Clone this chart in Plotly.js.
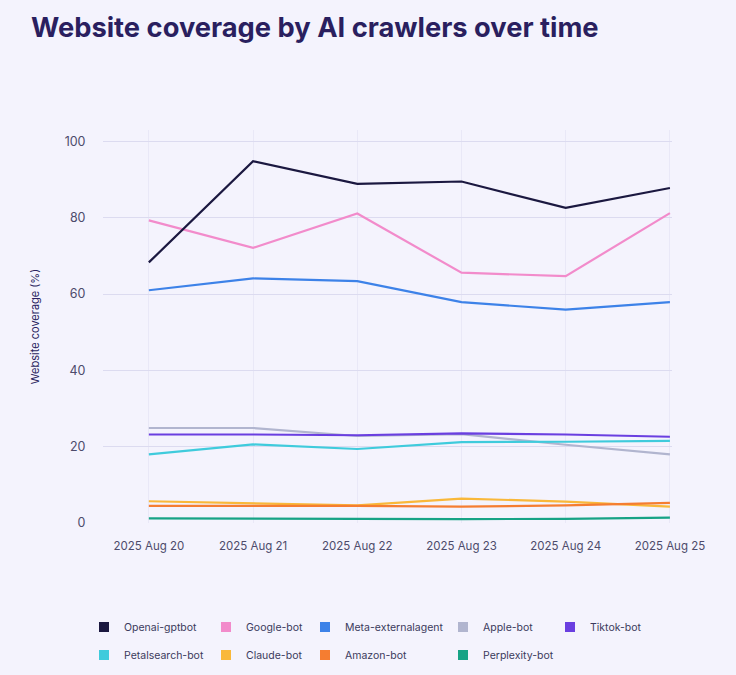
<!DOCTYPE html>
<html>
<head>
<meta charset="utf-8">
<script src="https://cdn.plot.ly/plotly-3.0.1.min.js"></script>
<style>
html,body{margin:0;padding:0;background:#f4f3fd;}
#chart{width:736px;height:675px;}
</style>
</head>
<body>
<div id="chart"></div>
<script>
const dates = ["2025 Aug 20","2025 Aug 21","2025 Aug 22","2025 Aug 23","2025 Aug 24","2025 Aug 25"];

const openai      = [68.3, 94.8, 88.9, 89.5, 82.6, 87.8];
const google      = [79.3, 72.1, 81.1, 65.6, 64.7, 81.2];
const meta        = [61.0, 64.1, 63.4, 57.9, 55.9, 57.9];
const apple       = [24.9, 24.9, 22.8, 23.3, 20.5, 18.0];
const tiktok      = [23.2, 23.2, 23.0, 23.5, 23.2, 22.6];
const petalsearch = [18.0, 20.6, 19.4, 21.2, 21.3, 21.5];
const claude      = [5.7, 5.2, 4.6, 6.4, 5.6, 4.3];
const amazon      = [4.5, 4.5, 4.5, 4.3, 4.6, 5.3];
const perplexity  = [1.2, 1.2, 1.1, 1.0, 1.1, 1.4];

const seriesNames = ["Openai-gptbot","Google-bot","Meta-externalagent","Apple-bot","Tiktok-bot",
                     "Petalsearch-bot","Claude-bot","Amazon-bot","Perplexity-bot"];
const seriesData = [openai, google, meta, apple, tiktok, petalsearch, claude, amazon, perplexity];
const colors = ["#1b1840","#f28bcb","#3d82e8","#b1b5cf","#6a3fe0","#3fcbdc","#f9b83a","#f57d31","#17a386"];

// legend grid: column & row of each series' legend entry
const legendCol = [0, 1, 2, 3, 4, 0, 1, 2, 3];
const legendRow = [0, 0, 0, 0, 0, 1, 1, 1, 1];

// draw order (back to front) similar to reference
const drawOrder = [3, 4, 5, 6, 7, 8, 2, 1, 0];

const traces = [];
drawOrder.forEach(i => {
  traces.push({
    x: dates, y: seriesData[i], type: "scatter", mode: "lines",
    name: seriesNames[i], legendgroup: seriesNames[i], showlegend: false,
    line: {color: colors[i], width: 2.2}, hoverinfo: "x+y+name"
  });
});
seriesNames.forEach((n, i) => {
  traces.push({
    x: [null], y: [null], type: "scatter", mode: "markers",
    name: n, legendgroup: n, showlegend: true,
    legend: i === 0 ? "legend" : "legend" + (i + 1),
    marker: {symbol: "square", size: 10, color: colors[i]}
  });
});

// legend placement (container fractions)
const colX = [84, 206, 305, 443, 550].map(v => v / 736);
const rowY = [1 - 627 / 675, 1 - 655 / 675];

const layout = {
  width: 736, height: 675,
  paper_bgcolor: "#f4f3fd", plot_bgcolor: "#f4f3fd",
  margin: {l: 103, r: 64, t: 130, b: 152},
  font: {family: "Inter, sans-serif", color: "#4d4b6b"},
  title: {
    text: "Website coverage by AI crawlers over time",
    x: 31 / 736, xref: "container", xanchor: "left", y: 1 - 27 / 675, yref: "container", yanchor: "middle",
    font: {family: "Inter, sans-serif", size: 27.3, weight: 700, color: "#2a1f5f"}
  },
  xaxis: {
    type: "category", range: [-0.44, 5.02],
    showgrid: true, gridcolor: "#e9e8f7", gridwidth: 1,
    zeroline: false, showline: false,
    ticks: "outside", ticklen: 12, tickcolor: "rgba(0,0,0,0)",
    tickfont: {size: 11.5, color: "#4d4b6b"}, fixedrange: true
  },
  yaxis: {
    range: [0, 103], tickvals: [0, 20, 40, 60, 80, 100],
    showgrid: true, gridcolor: "#dcdbf0", gridwidth: 1,
    zeroline: false, showline: false,
    ticks: "outside", ticklen: 14, tickcolor: "rgba(0,0,0,0)",
    tickfont: {size: 12.5, color: "#4d4b6b"},
    title: {text: "Website coverage (%)", standoff: 22, font: {size: 11, color: "#2a1f5f"}},
    fixedrange: true
  },
  showlegend: true
};

seriesNames.forEach((n, i) => {
  const key = i === 0 ? "legend" : "legend" + (i + 1);
  layout[key] = {
    orientation: "h", xref: "container", yref: "container",
    xanchor: "left", yanchor: "middle",
    x: colX[legendCol[i]], y: rowY[legendRow[i]],
    bgcolor: "rgba(0,0,0,0)",
    font: {family: "Inter, sans-serif", size: 10.5, color: "#3b3a5c"},
    itemclick: false, itemdoubleclick: false
  };
});

Plotly.newPlot("chart", traces, layout, {displayModeBar: false, staticPlot: true});
</script>
</body>
</html>
